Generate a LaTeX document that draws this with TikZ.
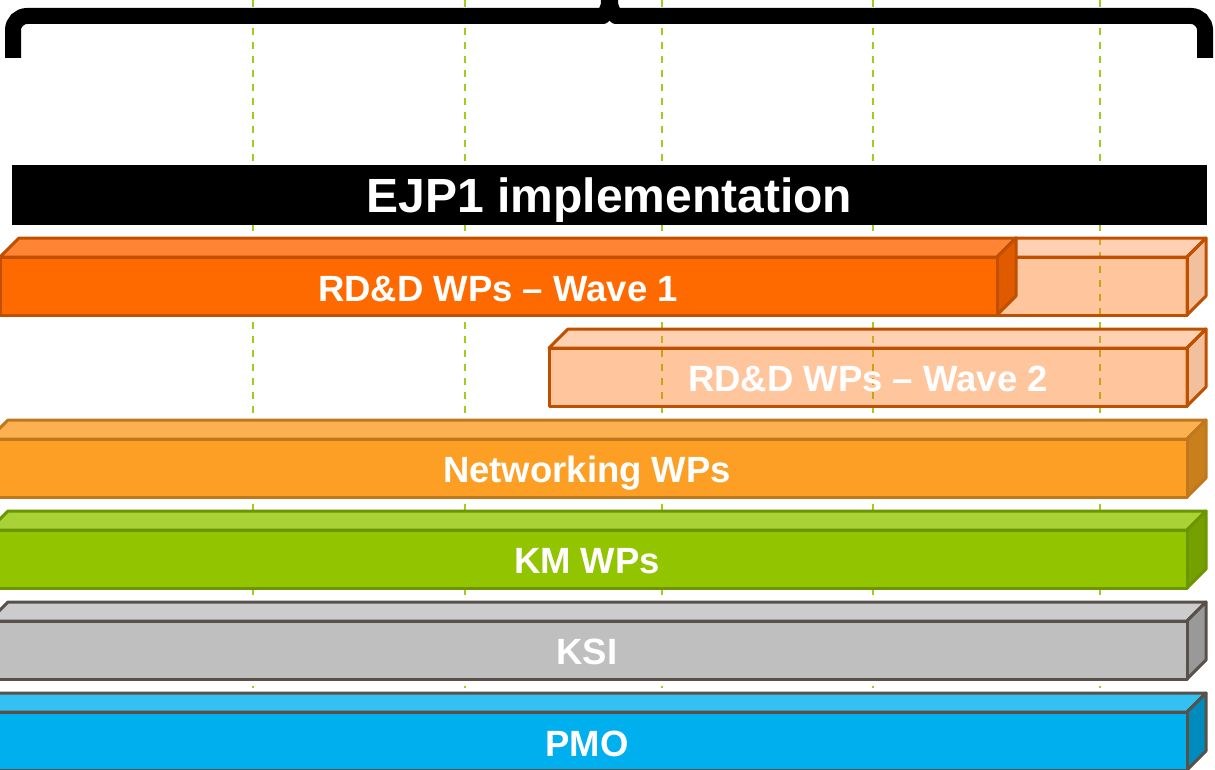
\documentclass[tikz,border=0pt]{standalone}
\usepackage{fontspec}
\setmainfont{Liberation Sans}

\definecolor{waveFront}{HTML}{FF6A00}
\definecolor{waveTop}{HTML}{FF8534}
\definecolor{waveSide}{HTML}{E05A00}
\definecolor{waveEdge}{HTML}{C04F00}
\definecolor{netFront}{HTML}{FC9F24}
\definecolor{netTop}{HTML}{FDB04F}
\definecolor{netSide}{HTML}{C97F1C}
\definecolor{netEdge}{HTML}{C0781E}
\definecolor{kmFront}{HTML}{92C500}
\definecolor{kmTop}{HTML}{A8D235}
\definecolor{kmSide}{HTML}{76A000}
\definecolor{kmEdge}{HTML}{6C9600}
\definecolor{ksiFront}{HTML}{BFBFBF}
\definecolor{ksiTop}{HTML}{CCCCCC}
\definecolor{ksiSide}{HTML}{999999}
\definecolor{ksiEdge}{HTML}{57514A}
\definecolor{pmoFront}{HTML}{00B0EE}
\definecolor{pmoTop}{HTML}{33C0F3}
\definecolor{pmoSide}{HTML}{008BBF}
\definecolor{pmoEdge}{HTML}{57514A}
\definecolor{gridgreen}{HTML}{A0CC1E}

\tikzset{
  boxedge/.style={line width=3pt, line join=round},
  gridline/.style={draw=gridgreen, line width=2pt, dash pattern=on 7pt off 7pt},
  wplabel/.style={text=white, inner sep=0pt, text height=26pt, text depth=0pt,
    font=\bfseries\fontsize{36.5}{40}\selectfont},
}

% 3D bar: [options] left x, right x, top y, colour prefix
\newcommand{\wpbox}[5][]{%
  \begin{scope}[#1]
    \filldraw[fill=#5Top, draw=#5Edge, boxedge] (#2+19,#4) -- (#3+19,#4) -- (#3,#4+19) -- (#2,#4+19) -- cycle;
    \filldraw[fill=#5Side, draw=#5Edge, boxedge] (#3,#4+19) -- (#3+19,#4) -- (#3+19,#4+58) -- (#3,#4+77) -- cycle;
    \filldraw[fill=#5Front, draw=#5Edge, boxedge] (#2,#4+19) rectangle (#3,#4+77);
  \end{scope}}

\begin{document}
\begin{tikzpicture}[x=1pt, y=-1pt]
    \useasboundingbox (0,0) rectangle (1215,770);
    \clip (0,0) rectangle (1215,770);

    % grid
    \foreach \gx in {253,465,662,873,1100}
      \draw[gridline] (\gx,0) -- (\gx,688);

    % brace
    \draw[line width=16pt, rounded corners=14pt] (13,58) -- (13,16) -- (1205,16) -- (1205,58);
    \fill (592,12) .. controls (600,10) and (601,6) .. (601,0) -- (618,0) .. controls (618,6) and (619,10) .. (627,12) -- cycle;
    \fill[white] (601,24.5) .. controls (606,24) and (608,23) .. (609.5,21) .. controls (611,23) and (613,24) .. (618,24.5) -- cycle;

    \node[fill=black, text=white, minimum width=1195pt, minimum height=60pt, inner sep=0pt,
          text height=34pt, text depth=0pt, font=\bfseries\fontsize{48}{52}\selectfont]
          (ejp) at (609.5,195) {EJP1 implementation};

    % bars
    \wpbox[fill opacity=0.38]{997}{1187}{238}{wave}
    \wpbox{0}{997}{238}{wave}
    \wpbox[fill opacity=0.38]{549}{1187}{329}{wave}
    \wpbox{-11}{1187}{420}{net}
    \wpbox{-11}{1187}{511}{km}
    \wpbox{-11}{1187}{602}{ksi}
    \wpbox{-30}{1187}{693}{pmo}

    \node[wplabel] (wave1) at (498,288) {RD\&D WPs – Wave 1};
    \node[wplabel] (wave2) at (868,378) {RD\&D WPs – Wave 2};
    \node[wplabel] (net) at (587,469) {Networking WPs};
    \node[wplabel] (km) at (587,560) {KM WPs};
    \node[wplabel] (ksi) at (587,651) {KSI};
    \node[wplabel] (pmo) at (587,743) {PMO};

\end{tikzpicture}
\end{document}
